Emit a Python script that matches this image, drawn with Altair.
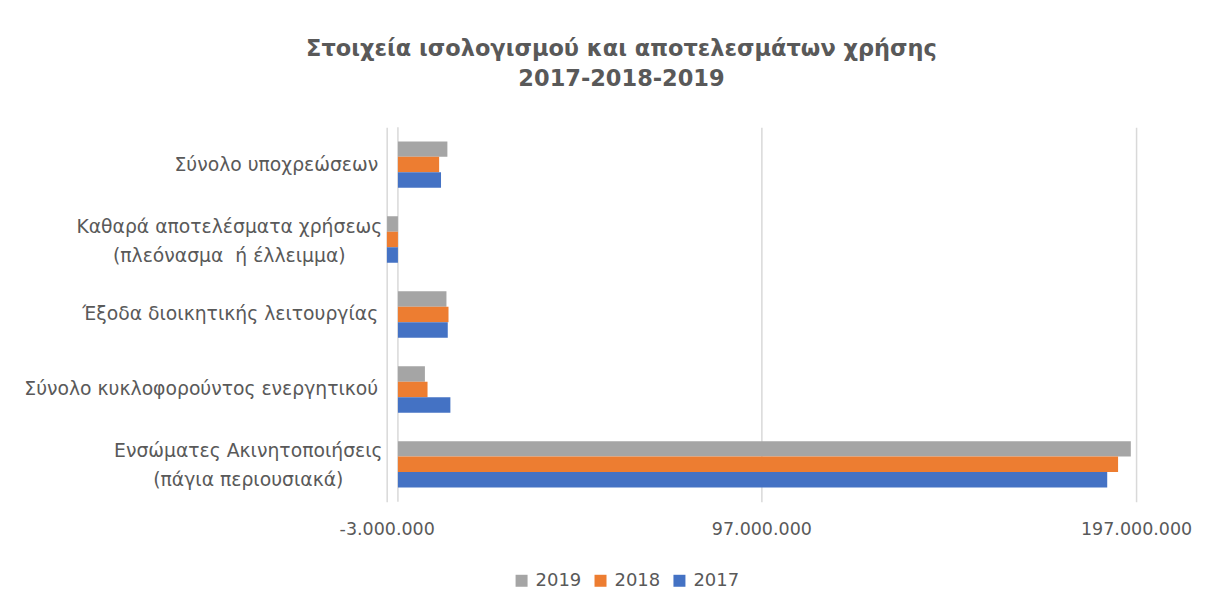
import altair as alt
import pandas as pd

categories = [
    "Σύνολο υποχρεώσεων",
    "Καθαρά αποτελέσματα χρήσεως|(πλεόνασμα\u00a0\u00a0ή έλλειμμα)",
    "Έξοδα διοικητικής λειτουργίας",
    "Σύνολο κυκλοφορούντος ενεργητικού",
    "Ενσώματες Ακινητοποιήσεις|(πάγια περιουσιακά)",
]
years = ["2019", "2018", "2017"]
v2019 = [13_200_000, -2_900_000, 12_950_000, 7_200_000, 195_600_000]
v2018 = [11_000_000, -3_000_000, 13_500_000, 7_900_000, 192_200_000]
v2017 = [11_500_000, -3_000_000, 13_300_000, 14_000_000, 189_300_000]
colors = ["#A5A5A5", "#ED7D31", "#4472C4"]
tick_values = [-3_000_000, 97_000_000, 197_000_000]

rows = []
for yr, vals in zip(years, [v2019, v2018, v2017]):
    for c, v in zip(categories, vals):
        rows.append({"category": c, "year": yr, "value": v})
df = pd.DataFrame(rows)

FONT = "DejaVu Sans"
GREY = "#595959"

label_expr = ("replace(replace(replace(replace(format(datum.value, ','), ',', '.'), ',', '.'), ',', '.'), '\u2212', '-')")

two_line = "indexof(datum.value, '|') >= 0"

bars = alt.Chart(df).mark_bar(clip=True).encode(
    x=alt.X("value:Q",
            scale=alt.Scale(domain=[-3_000_000, 197_000_000], nice=False, zero=False),
            axis=alt.Axis(values=tick_values, labelExpr=label_expr, title=None,
                          domain=False, ticks=False, grid=True, gridColor="#D9D9D9",
                          gridWidth=1.5, labelFont=FONT, labelFontSize=17.5,
                          labelColor=GREY, labelPadding=19, labelFlush=False)),
    y=alt.Y("category:N", sort=categories,
            scale=alt.Scale(paddingInner=0.38, paddingOuter=0.19),
            axis=alt.Axis(title=None, domain=False, ticks=False,
                          labelExpr="split(datum.value, '|')",
                          labelFont=FONT, labelFontSize=18.8, labelColor=GREY,
                          labelLimit=600, labelLineHeight=29,
                          labelAlign={"condition": {"test": two_line, "value": "center"},
                                      "value": "right"},
                          labelPadding={"condition": [
                              {"test": "indexof(datum.value, 'Καθαρά') == 0", "value": 158},
                              {"test": "indexof(datum.value, 'Ενσώματες') == 0", "value": 139},
                          ], "value": 9},
                          labelOffset={"condition": {"test": two_line, "value": -13},
                                       "value": 0})),
    yOffset=alt.YOffset("year:N", sort=years),
    color=alt.Color("year:N", sort=years,
                    scale=alt.Scale(domain=years, range=colors),
                    legend=alt.Legend(title=None, orient="none", direction="horizontal",
                                      legendX=126, legendY=445, symbolType="square",
                                      symbolSize=144, symbolStrokeWidth=0,
                                      labelFont=FONT, labelFontSize=18, labelColor=GREY,
                                      columnPadding=10, labelOffset=5)),
)

zero_rule = alt.Chart(pd.DataFrame({"z": [0]})).mark_rule(color="#D9D9D9", strokeWidth=1.5).encode(
    x=alt.X("z:Q")
)

chart = alt.layer(zero_rule, bars).properties(
    width=750,
    height=375,
    background="white",
    autosize=alt.AutoSizeParams(type="none"),
    padding={"left": 379, "top": 119, "right": 80, "bottom": 100},
    title=alt.Title(
        ["Στοιχεία ισολογισμού και αποτελεσμάτων χρήσης", "2017-2018-2019"],
        font=FONT, fontSize=22.5, fontWeight="bold", color=GREY,
        anchor="middle", dx=-140, offset=36, lineHeight=30,
    ),
).configure_view(strokeWidth=0, stroke=None)

chart.save("out.html", embed_options={"renderer": "svg", "actions": False})
